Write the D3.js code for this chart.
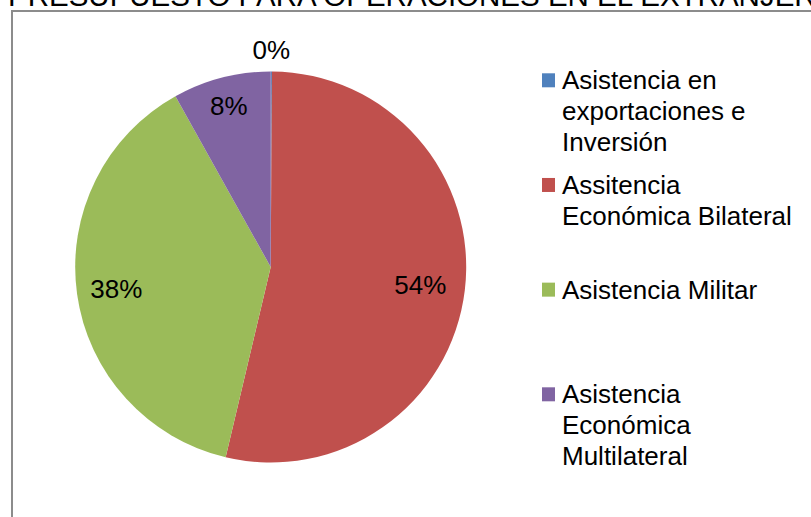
<!DOCTYPE html>
<html>
<head>
<meta charset="utf-8">
<script src="https://cdn.jsdelivr.net/npm/d3@7/dist/d3.min.js"></script>
<style>
  html, body { margin: 0; padding: 0; background: #ffffff; }
  svg { display: block; }
  text { font-family: "Liberation Sans", Arial, sans-serif; fill: #000; }
</style>
</head>
<body>
<svg id="chart" width="811" height="517"></svg>
<script>
// ---- data ----
const title = "PRESUPUESTO PARA OPERACIONES EN EL EXTRANJERO";
const categories = [
  "Asistencia en exportaciones e Inversión",
  "Assitencia Económica Bilateral",
  "Asistencia Militar",
  "Asistencia Económica Multilateral"
];
const values = [0.1, 53.6, 38.2, 8.1];
const colors = ["#4F81BD", "#C0504D", "#9BBB59", "#8064A2"];

// ---- layout ----
const W = 811, H = 517;
const svg = d3.select("#chart");

// chart frame (extends past the visible crop)
svg.append("rect")
  .attr("x", 12).attr("y", 11)
  .attr("width", W + 100).attr("height", H + 100)
  .attr("fill", "none")
  .attr("stroke", "#8c8c8c")
  .attr("stroke-width", 2);

// title (clipped at top, as in the original crop)
svg.append("text")
  .attr("x", 8).attr("y", 6)
  .attr("font-size", 29.5)
  .text(title);

// pie
const cx = 270.7, cy = 267, r = 195.5;
const total = d3.sum(values);
const pie = d3.pie().sort(null).value(d => d)(values);
const arc = d3.arc().innerRadius(0).outerRadius(r);
const g = svg.append("g").attr("transform", `translate(${cx},${cy})`);

g.selectAll("path.slice").data(pie).enter().append("path")
  .attr("class", "slice")
  .attr("d", arc)
  .attr("fill", (d, i) => colors[i]);

// data labels
const fmt = d3.format(".0%");
const insideFactor = d3.scaleLinear().domain([0.08, 0.54]).range([0.85, 0.77]);
g.selectAll("text.lbl").data(pie).enter().append("text")
  .attr("class", "lbl")
  .attr("font-size", 26)
  .attr("text-anchor", "middle")
  .attr("dy", "0.35em")
  .attr("transform", d => {
    const frac = d.value / total;
    const rr = frac < 0.01 ? r + 21.5 : r * insideFactor(frac);
    const a = (d.startAngle + d.endAngle) / 2;
    return `translate(${rr * Math.sin(a)},${-rr * Math.cos(a)})`;
  })
  .text(d => fmt(d.value / total));

// legend
const legX = 542, legTextX = 562, legY0 = 89.3, legStep = 104.67, lineH = 31, maxW = 245;
const leg = svg.append("g");
categories.forEach((name, i) => {
  const y = legY0 + i * legStep;
  leg.append("rect")
    .attr("x", legX).attr("y", y - 16)
    .attr("width", 13).attr("height", 14)
    .attr("fill", colors[i]);
  const t = leg.append("text")
    .attr("x", legTextX).attr("y", y)
    .attr("font-size", 26);
  // greedy word wrap
  const words = name.split(" ");
  let line = [], lineNo = 0;
  let tspan = t.append("tspan").attr("x", legTextX).attr("y", y);
  words.forEach(w => {
    line.push(w);
    tspan.text(line.join(" "));
    if (tspan.node().getComputedTextLength() > maxW && line.length > 1) {
      line.pop();
      tspan.text(line.join(" "));
      line = [w];
      lineNo++;
      tspan = t.append("tspan").attr("x", legTextX).attr("y", y + lineNo * lineH).text(w);
    }
  });
});
</script>
</body>
</html>
